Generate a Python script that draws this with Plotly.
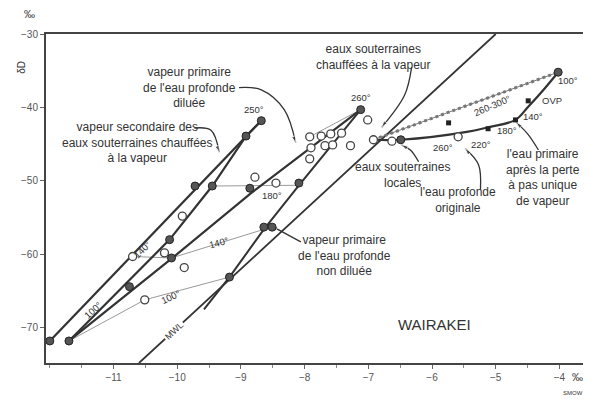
import plotly.graph_objects as go

# δ18O (x) and δD (y) values, ‰ SMOW
mwl_x = [-10.6, -5.0]
mwl_y = [-74.8, -30.0]

sec1_x = [-12.0, -8.68]
sec1_y = [-71.8, -41.8]
sec2_x = [-11.70, -10.12, -9.45, -8.92, -8.68]
sec2_y = [-71.8, -58.0, -50.7, -43.9, -41.8]

dil_x = [-11.70, -10.75, -10.09, -8.86, -7.12]
dil_y = [-71.8, -65.2, -60.6, -51.8, -40.3]

undil_x = [-9.58, -9.18, -8.64, -8.09, -7.12]
undil_y = [-67.5, -63.1, -56.6, -50.6, -40.3]

liq_x = [-6.92, -6.49, -5.43, -5.12, -4.69, -4.49, -4.29, -4.02]
liq_y = [-44.4, -44.4, -43.3, -42.7, -41.7, -39.9, -38.0, -35.2]

cont_x = [-6.92, -4.02]
cont_y = [-44.4, -35.2]

tie100_x = [-11.70, -10.51, -9.18]
tie100_y = [-71.8, -66.2, -63.1]
tie140_x = [-10.70, -10.09, -8.64]
tie140_y = [-60.3, -60.5, -56.6]
tie180_x = [-9.45, -8.86, -8.09]
tie180_y = [-50.7, -50.7, -50.6]
fan_x = [-7.92, -7.12, -7.90]
fan_y = [-44.0, -40.3, -45.5]

filled_x = [-12.0, -11.70, -10.75, -10.12, -10.09, -9.72, -9.45, -8.92, -8.68,
            -9.18, -8.64, -8.51, -8.86, -8.09, -7.12, -6.49, -4.02]
filled_y = [-71.8, -71.8, -64.4, -58.0, -60.5, -50.7, -50.7, -43.9, -41.8,
            -63.1, -56.3, -56.3, -51.0, -50.3, -40.3, -44.4, -35.2]

open_x = [-10.70, -10.51, -10.20, -9.89, -9.92, -8.78, -8.45, -7.92, -7.74, -7.59,
          -7.42, -7.90, -7.68, -7.56, -7.92, -7.28, -7.01, -6.92, -6.63, -5.59]
open_y = [-60.3, -66.2, -59.8, -61.8, -54.8, -49.5, -50.3, -44.0, -43.9, -43.6,
          -43.5, -45.5, -45.2, -45.1, -47.0, -45.2, -41.7, -44.4, -44.6, -44.0]

small_x = [-4.49, -4.69, -5.12, -5.74]
small_y = [-39.1, -41.7, -42.9, -42.1]

# leader lines for the text labels
leaders = [
    ([-9.03, -8.68, -8.32, -8.14], [-37.3, -37.6, -40.3, -44.8]),
    ([-9.73, -9.47, -9.34], [-42.8, -43.1, -46.1]),
    ([-6.32, -6.43, -6.79], [-34.5, -38.3, -42.7]),
    ([-6.21, -6.34, -6.48], [-47.4, -45.8, -45.1]),
    ([-5.24, -5.27, -5.48], [-51.2, -47.8, -45.6]),
    ([-4.33, -4.49, -4.68], [-45.8, -43.7, -42.0]),
    ([-8.06, -8.53], [-58.3, -56.1]),
]

INK = '#333333'
fig = go.Figure()

def line(x, y, w=2, color=INK, dash='solid', shape='linear'):
    fig.add_trace(go.Scatter(x=x, y=y, mode='lines', hoverinfo='skip',
                             line=dict(color=color, width=w, dash=dash, shape=shape)))

line(mwl_x, mwl_y, 1.8)
for tx, ty in [(tie100_x, tie100_y), (tie140_x, tie140_y), (tie180_x, tie180_y), (fan_x, fan_y)]:
    line(tx, ty, 1, '#9a9a9a')
line(cont_x, cont_y, 1, '#777777')
line(cont_x, cont_y, 3, '#777777', 'dot')
line(sec1_x, sec1_y, 2.2)
line(sec2_x, sec2_y, 2.2)
line(dil_x, dil_y, 2.2)
line(undil_x, undil_y, 2)
line(liq_x, liq_y, 2.2, shape='spline')

for lx, ly in leaders:
    fig.add_trace(go.Scatter(x=lx, y=ly, mode='lines+markers', hoverinfo='skip',
                             line=dict(color=INK, width=1.3, shape='spline'),
                             marker=dict(symbol='arrow', angleref='previous', color=INK,
                                         size=[0] * (len(lx) - 1) + [7])))

fig.add_trace(go.Scatter(x=open_x, y=open_y, mode='markers', hoverinfo='skip',
                         marker=dict(symbol='circle', size=8, color='white',
                                     line=dict(color='#444444', width=1.3))))
fig.add_trace(go.Scatter(x=filled_x, y=filled_y, mode='markers', hoverinfo='skip',
                         marker=dict(symbol='circle', size=8, color='#555555',
                                     line=dict(color='#222222', width=1))))
fig.add_trace(go.Scatter(x=small_x, y=small_y, mode='markers', hoverinfo='skip',
                         marker=dict(symbol='square', size=5, color='#222222')))

FONT = 'Liberation Sans, Arial, sans-serif'
labels = [
    (-9.81, -37.3, "vapeur primaire<br>de l'eau profonde<br>diluée"),
    (-10.62, -44.8, "vapeur secondaire des<br>eaux souterraines chauffées<br>à la vapeur"),
    (-6.92, -33.1, "eaux souterraines<br>chauffées à la vapeur"),
    (-6.46, -49.2, "eaux souterraines<br>locales"),
    (-5.59, -52.6, "l'eau profonde<br>originale"),
    (-4.26, -49.5, "l'eau primaire<br>après la perte<br>à pas unique<br>de vapeur"),
    (-7.37, -60.2, "vapeur primaire<br>de l'eau profonde<br>non diluée"),
]
temps = [
    (-8.79, -40.3, "250°", 0),
    (-7.12, -38.6, "260°", 0),
    (-8.51, -52.0, "180°", 0),
    (-10.55, -59.3, "140°", -45),
    (-9.34, -58.4, "140°", -15),
    (-11.33, -67.6, "100°", -42),
    (-10.09, -65.8, "100°", -25),
    (-3.86, -36.3, "100°", 0),
    (-4.11, -39.1, "OVP", 0),
    (-4.41, -41.3, "140°", 0),
    (-4.82, -43.2, "180°", 0),
    (-5.23, -45.0, "220°", 0),
    (-5.82, -45.4, "260°", 0),
    (-5.05, -39.8, "260-300°", -23),
]
anns = [dict(x=x, y=y, text=t, showarrow=False,
             font=dict(family=FONT, size=12, color=INK)) for x, y, t in labels]
anns += [dict(x=x, y=y, text=t, textangle=a, showarrow=False,
              font=dict(family=FONT, size=9.5, color=INK)) for x, y, t, a in temps]
anns.append(dict(x=-10.05, y=-70.5, text='MWL', textangle=-43, showarrow=False,
                 bgcolor='white', font=dict(family=FONT, size=9, color=INK)))
anns.append(dict(x=-5.96, y=-69.6, text='WAIRAKEI', showarrow=False,
                 font=dict(family=FONT, size=15, color=INK)))
paper_txt = [
    (-0.03, 1.06, '‰', 11, 0),
    (-0.045, 0.90, 'δD', 10, -90),
    (0.99, -0.043, '‰', 11, 0),
    (0.982, -0.09, 'SMOW', 6, 0),
]
anns += [dict(xref='paper', yref='paper', x=x, y=y, text=t, textangle=a,
              xanchor='center', yanchor='middle', showarrow=False,
              font=dict(family=FONT, size=s, color=INK)) for x, y, t, s, a in paper_txt]

axis_common = dict(showgrid=False, zeroline=False, showline=True, mirror=True,
                   linecolor='#444444', linewidth=2, ticks='outside', ticklen=4,
                   tickcolor='#666666', tickfont=dict(family=FONT, size=10, color='#555555'))
fig.update_layout(
    width=583, height=391,
    margin=dict(l=38, r=6, t=26, b=36),
    paper_bgcolor='white', plot_bgcolor='white',
    showlegend=False,
    annotations=anns,
    xaxis=dict(range=[-12.06, -3.63], tickvals=[-11, -10, -9, -8, -7, -6, -5, -4],
               minor=dict(dtick=0.5, ticks='outside', ticklen=3, tickcolor='#888888'),
               **axis_common),
    yaxis=dict(range=[-74.8, -30], tickvals=[-30, -40, -50, -60, -70],
               **axis_common),
)

fig.write_html("out.html")
